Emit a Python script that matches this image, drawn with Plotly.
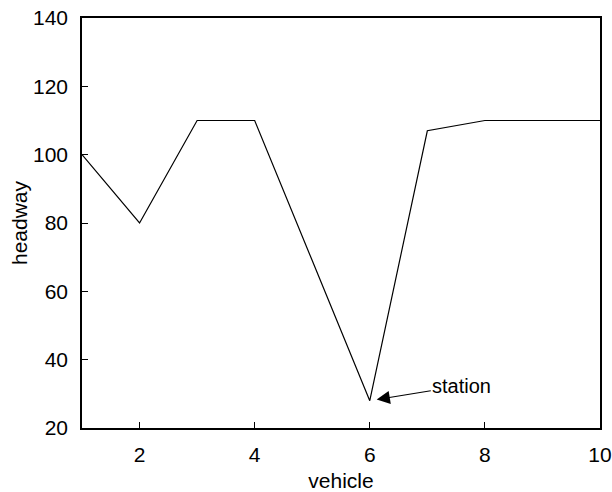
import plotly.graph_objects as go

# headway of each vehicle along the line
vehicle = [1, 2, 3, 4, 5, 6, 7, 8, 9, 10]
headway = [100, 80, 110, 110, 69, 28, 107, 110, 110, 110]

x_ticks = [2, 4, 6, 8, 10]
y_ticks = [20, 40, 60, 80, 100, 120, 140]

font_family = "Liberation Sans, Arial, Helvetica, sans-serif"
font_size = 21

fig = go.Figure()
fig.add_trace(go.Scatter(
    x=vehicle, y=headway, mode="lines",
    line=dict(color="black", width=1.2),
    showlegend=False,
))

fig.add_annotation(
    x=6, y=28, xref="x", yref="y",
    text="station", showarrow=True,
    ax=92, ay=-15,
    arrowhead=2, arrowsize=2.2, arrowwidth=1.2, arrowcolor="black",
    standoff=7,
    font=dict(family=font_family, size=20, color="black"),
)

axis_common = dict(
    showgrid=False, zeroline=False,
    showline=True, linecolor="black", linewidth=1.5, mirror=True,
    ticks="inside", ticklen=6, tickwidth=1.2, tickcolor="black",
    tickfont=dict(family=font_family, size=font_size, color="black"),
    automargin=False, ticklabeloverflow="allow",
)

fig.update_layout(
    width=612, height=492,
    margin=dict(l=82, r=12, t=18, b=64),
    paper_bgcolor="white", plot_bgcolor="white",
    xaxis=dict(range=[1, 10], tickvals=x_ticks, ticklabelstandoff=7,
               title=dict(text="vehicle", font=dict(family=font_family, size=font_size, color="black"), standoff=10),
               **axis_common),
    yaxis=dict(range=[20, 140], tickvals=y_ticks, ticklabelstandoff=8,
               title=dict(text="headway", font=dict(family=font_family, size=font_size, color="black"), standoff=0),
               **axis_common),
)

fig.write_html("out.html")
